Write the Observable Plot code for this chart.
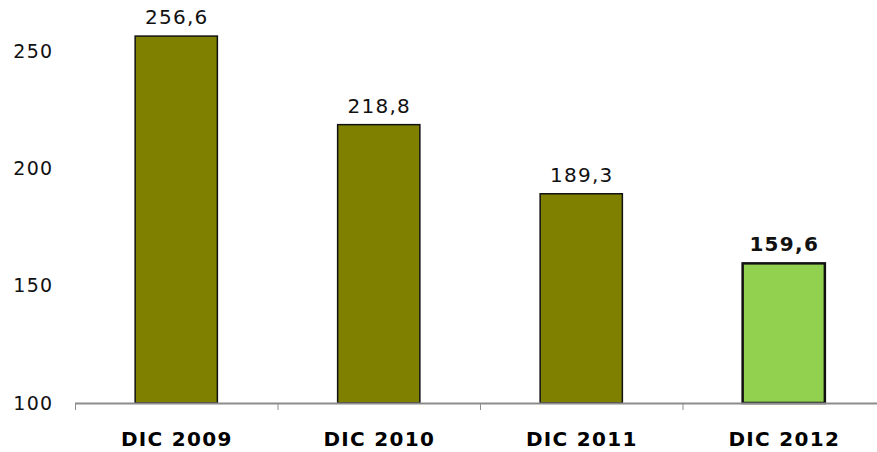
<!DOCTYPE html>
<html>
<head>
<meta charset="utf-8">
<script src="https://cdn.jsdelivr.net/npm/d3@7"></script>
<script src="https://cdn.jsdelivr.net/npm/@observablehq/plot@0.6"></script>
<style>
  html, body { margin: 0; padding: 0; background: #fff; }
  #chart svg { display: block; }
</style>
</head>
<body>
<div id="chart"></div>
<script>
const categories = ["DIC 2009", "DIC 2010", "DIC 2011", "DIC 2012"];
const values = [256.6, 218.8, 189.3, 159.6];
const labels = ["256,6", "218,8", "189,3", "159,6"];
const fills = ["#808000", "#808000", "#808000", "#92D050"];
const highlight = [false, false, false, true];
const yTicks = [100, 150, 200, 250];

const data = categories.map((c, i) => ({
  i, cat: c, value: values[i], label: labels[i], fill: fills[i], hi: highlight[i]
}));

const W = 877, H = 452;
const chart = Plot.plot({
  width: W,
  height: H,
  marginTop: 0,
  marginBottom: 49,
  marginLeft: 75,
  marginRight: 0,
  style: { fontFamily: "DejaVu Sans, Verdana, sans-serif", background: "#fff", overflow: "visible" },
  x: { type: "linear", domain: [0, 4], range: [75, 885] },
  y: { domain: [100, 272], range: [403, 0] },
  marks: [
    Plot.rectY(data, {
      x1: d => d.i + 0.297, x2: d => d.i + 0.703,
      y1: 100, y2: "value",
      fill: d => d.fill, stroke: "#111", strokeWidth: d => d.hi ? 2.5 : 1.5
    }),
    Plot.ruleY([100], { stroke: "#8c8c8c", strokeWidth: 2 }),
    Plot.axisX({ ticks: [0, 1, 2, 3, 4], tickSize: 7, tickFormat: () => "", stroke: "#8c8c8c", label: null }),
    Plot.axisX({
      ticks: [0.5, 1.5, 2.5, 3.5], tickSize: 0, tickPadding: 28,
      tickFormat: v => categories[Math.floor(v)],
      fontSize: 20, fontWeight: "bold", fill: "#000", label: null
    }),
    Plot.axisY({
      ticks: yTicks, tickSize: 0, tickPadding: 22, fontSize: 19, fill: "#111",
      tickFormat: d => String(d), label: null
    }),
    Plot.text(data.filter(d => !d.hi), {
      x: d => d.i + 0.5, y: "value", text: "label", dy: -19,
      fontSize: 20, fill: "#111"
    }),
    Plot.text(data.filter(d => d.hi), {
      x: d => d.i + 0.5, y: "value", text: "label", dy: -19,
      fontSize: 20, fontWeight: "bold", fill: "#111"
    })
  ]
});
document.getElementById("chart").appendChild(chart);
d3.select(chart).selectAll("text").style("letter-spacing", "1.3px");
</script>
</body>
</html>
